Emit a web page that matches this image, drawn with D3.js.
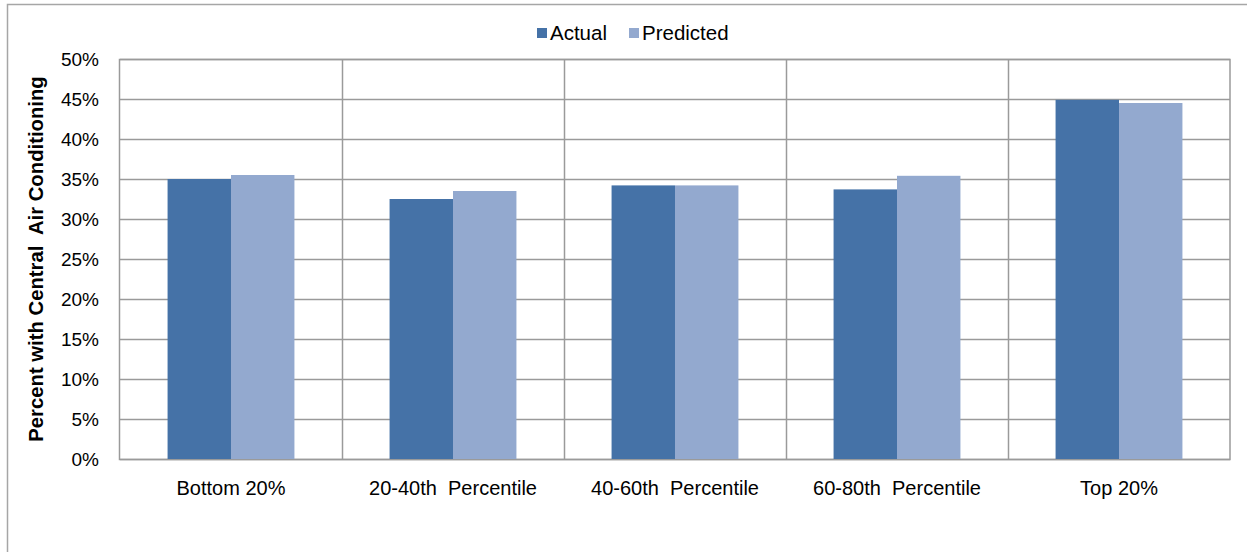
<!DOCTYPE html>
<html>
<head>
<meta charset="utf-8">
<script src="https://cdn.jsdelivr.net/npm/d3@7"></script>
<style>
  body { margin: 0; background: #fff; }
  svg text { font-family: "Liberation Sans", Arial, sans-serif; }
</style>
</head>
<body>
<svg id="chart" width="1247" height="552"></svg>
<script>
// Share of households with central air conditioning, by income quintile
const categories = ["Bottom 20%", "20-40th  Percentile", "40-60th  Percentile", "60-80th  Percentile", "Top 20%"];
const seriesNames = ["Actual", "Predicted"];
const actual = [35.0, 32.5, 34.2, 33.7, 44.9];
const predicted = [35.5, 33.5, 34.2, 35.4, 44.5];
const yTicks = [0, 5, 10, 15, 20, 25, 30, 35, 40, 45, 50];

const colors = { Actual: "#4572A7", Predicted: "#93A9CF" };
const gridColor = "#9a9a9a";

const svg = d3.select("#chart");
const plot = { left: 120, right: 1230, top: 59, bottom: 459 };

// outer frame
svg.append("rect")
  .attr("x", 7.5).attr("y", 4.5)
  .attr("width", 1250).attr("height", 560)
  .attr("fill", "none").attr("stroke", "#a6a6a6").attr("stroke-width", 1.5);

const x = d3.scaleBand().domain(categories).range([plot.left, plot.right]);
const xInner = d3.scaleBand().domain(seriesNames).range([0, x.bandwidth()])
  .paddingOuter(0.75).paddingInner(0);
const y = d3.scaleLinear().domain([0, 50]).range([plot.bottom, plot.top]);

// horizontal gridlines
svg.append("g").selectAll("line").data(yTicks).join("line")
  .attr("x1", plot.left).attr("x2", plot.right)
  .attr("y1", d => Math.round(y(d)) + 0.5).attr("y2", d => Math.round(y(d)) + 0.5)
  .attr("stroke", gridColor).attr("stroke-width", 1.5);

// vertical category separators
svg.append("g").selectAll("line").data(categories.slice(1)).join("line")
  .attr("x1", d => Math.round(x(d)) + 0.5).attr("x2", d => Math.round(x(d)) + 0.5)
  .attr("y1", plot.top).attr("y2", plot.bottom)
  .attr("stroke", gridColor).attr("stroke-width", 1.5);

// plot border
svg.append("rect")
  .attr("x", plot.left - 0.5).attr("y", plot.top + 0.5)
  .attr("width", plot.right - plot.left + 0.5).attr("height", plot.bottom - plot.top)
  .attr("fill", "none").attr("stroke", gridColor).attr("stroke-width", 1.5);

// bars
const rows = categories.map((c, i) => ({ cat: c, Actual: actual[i], Predicted: predicted[i] }));
const groups = svg.append("g").selectAll("g").data(rows).join("g")
  .attr("transform", d => `translate(${x(d.cat)},0)`);
groups.selectAll("rect")
  .data(d => seriesNames.map(s => ({ s, v: d[s] })))
  .join("rect")
  .attr("x", d => xInner(d.s))
  .attr("width", xInner.bandwidth())
  .attr("y", d => y(d.v))
  .attr("height", d => y(0) - y(d.v))
  .attr("fill", d => colors[d.s]);

// y axis labels
const yAxis = d3.axisLeft(y).tickValues(yTicks).tickSize(0).tickPadding(21)
  .tickFormat(d => d + "%");
const yg = svg.append("g").attr("transform", `translate(${plot.left},0)`).call(yAxis);
yg.select(".domain").remove();
yg.selectAll("text").attr("font-size", 19).attr("fill", "#000")
  .attr("font-family", "'Liberation Sans', Arial, sans-serif");

// x axis labels
const xAxis = d3.axisBottom(x).tickSize(0).tickPadding(22);
const xg = svg.append("g").attr("transform", `translate(0,${plot.bottom})`).call(xAxis);
xg.select(".domain").remove();
xg.selectAll("text").attr("font-size", 20).attr("fill", "#000")
  .attr("font-family", "'Liberation Sans', Arial, sans-serif")
  .style("white-space", "pre");

// y axis title
svg.append("text")
  .attr("transform", `translate(43,${(plot.top + plot.bottom) / 2}) rotate(-90)`)
  .attr("text-anchor", "middle")
  .attr("font-size", 20.3).attr("font-weight", "bold")
  .style("white-space", "pre")
  .text("Percent with Central  Air Conditioning");

// legend
const legend = svg.append("g");
const legendItems = [{ s: "Actual", x: 537 }, { s: "Predicted", x: 629 }];
legendItems.forEach(it => {
  legend.append("rect").attr("x", it.x).attr("y", 28).attr("width", 10).attr("height", 10)
    .attr("fill", colors[it.s]);
  legend.append("text").attr("x", it.x + 13).attr("y", 40)
    .attr("font-size", 20.5).attr("fill", "#000").text(it.s);
});
</script>
</body>
</html>
